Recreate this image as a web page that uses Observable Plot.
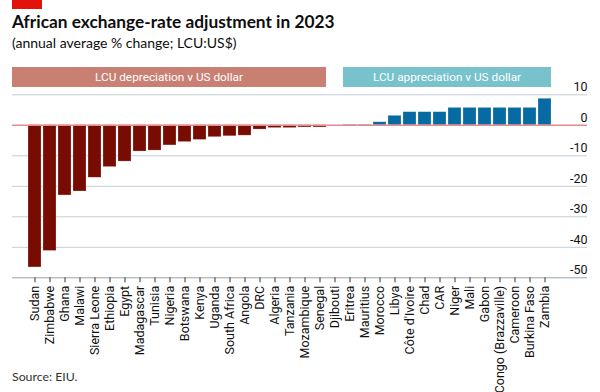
<!DOCTYPE html>
<html>
<head>
<meta charset="utf-8">
<script src="https://cdn.jsdelivr.net/npm/d3@7"></script>
<script src="https://cdn.jsdelivr.net/npm/@observablehq/plot@0.6"></script>
<style>
  body { margin: 0; background: #fff; }
  #wrap { position: relative; width: 600px; height: 392px; overflow: hidden; font-family: Lato, "Open Sans", sans-serif; color: #0d0d0d; }
  #redbar { position: absolute; left: 12px; top: 0; width: 30px; height: 9px; background: #e3120b; }
  #title { position: absolute; left: 12px; top: 11px; font-size: 17.3px; line-height: 21px; font-weight: 700; white-space: nowrap; }
  #subtitle { position: absolute; left: 12px; top: 34px; font-size: 14px; line-height: 18px; white-space: nowrap; }
  #chart { position: absolute; left: 0; top: 60px; }
  #source { position: absolute; left: 12px; top: 369px; font-size: 12.3px; line-height: 15px; color: #333; font-family: Lato, sans-serif; }
</style>
</head>
<body>
<div id="wrap">
  <div id="redbar"></div>
  <div id="title">African exchange-rate adjustment in 2023</div>
  <div id="subtitle">(annual average % change; LCU:US$)</div>
  <div id="chart"></div>
  <div id="source">Source: EIU.</div>
</div>
<script>
// ---- data ----
const countries = ["Sudan", "Zimbabwe", "Ghana", "Malawi", "Sierra Leone", "Ethiopia", "Egypt", "Madagascar", "Tunisia", "Nigeria", "Botswana", "Kenya", "Uganda", "South Africa", "Angola", "DRC", "Algeria", "Tanzania", "Mozambique", "Senegal", "Djibouti", "Eritrea", "Mauritius", "Morocco", "Libya", "Côte d'Ivoire", "Chad", "CAR", "Niger", "Mali", "Gabon", "Congo (Brazzaville)", "Cameroon", "Burkina Faso", "Zambia"];
const values = [-46.6, -41.2, -23.0, -21.7, -17.2, -13.7, -11.9, -8.6, -8.3, -6.6, -5.5, -4.8, -3.9, -3.6, -3.4, -1.4, -0.9, -0.9, -0.7, -0.7, 0, 0.2, 0.2, 1.0, 3.1, 4.3, 4.3, 4.3, 5.7, 5.7, 5.7, 5.7, 5.7, 5.7, 8.7];
const yTicks = [-50, -40, -30, -20, -10, 0, 10];
const groupLabels = ["LCU depreciation v US dollar", "LCU appreciation v US dollar"];
const groupFirst = [null, "Eritrea"];
const groupLast = ["Senegal", "Zambia"];
const groupColors = ["#c98073", "#77c2cd"];

const data = countries.map((c, i) => ({country: c, value: values[i], dir: values[i] < 0 ? "dep" : "app"}));

const svg = Plot.plot({
  width: 600,
  height: 332,
  marginLeft: 12,
  marginRight: 13,
  marginTop: 34.3,
  marginBottom: 114.7,
  style: {fontFamily: "Roboto, sans-serif", fontSize: "12px", color: "#111", background: "transparent"},
  x: {domain: countries, paddingInner: 0.14, paddingOuter: 0.3, insetRight: 19.3, label: null},
  y: {domain: [-50, 10], label: null},
  color: {domain: ["dep", "app"], range: ["#790c02", "#066ba2"]},
  marks: [
    Plot.gridY(yTicks.filter(d => d !== 0 && d !== -50), {stroke: "#c3ced5", strokeOpacity: 1, strokeWidth: 1}),
    Plot.ruleY([-50], {stroke: "#9aa4aa", strokeWidth: 1}),
    Plot.axisY(yTicks, {anchor: "right", tickSize: 0, tickPadding: 0, textAnchor: "end", dy: -7.5, fontSize: 12.5, tickFormat: d => String(d), label: null}),
    Plot.barY(data, {x: "country", y: "value", fill: "dir", stroke: "#fff", strokeOpacity: 0.35, strokeWidth: 0.6}),
    Plot.ruleY([0], {stroke: "#e58a8a", strokeWidth: 1.6}),
    Plot.axisX({tickRotate: -90, tickSize: 5, tickPadding: 3, stroke: "#333", fontSize: 12.5, label: null})
  ]
});

// header boxes drawn from the plot's own band scale
const xs = svg.scale("x");
const bw = xs.bandwidth;
const g = d3.select(svg).append("g");
groupLabels.forEach((lab, i) => {
  const x1 = groupFirst[i] ? xs.apply(groupFirst[i]) : 12;
  const x2 = xs.apply(groupLast[i]) + bw;
  g.append("rect").attr("x", x1).attr("y", 7).attr("width", x2 - x1).attr("height", 20).attr("fill", groupColors[i]);
  g.append("text").attr("x", (x1 + x2) / 2).attr("y", 17).attr("dy", "0.35em")
    .attr("text-anchor", "middle").attr("fill", "#fff").attr("font-size", 11.8).text(lab);
});

document.getElementById("chart").appendChild(svg);
</script>
</body>
</html>
